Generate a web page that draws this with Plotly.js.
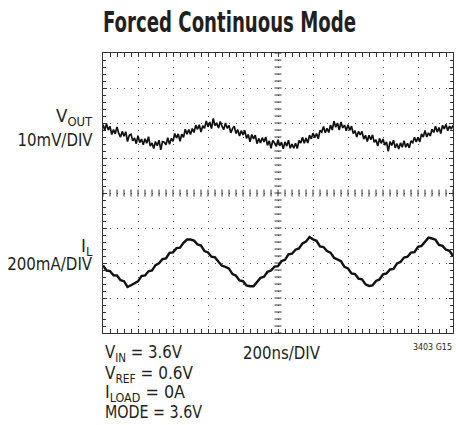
<!DOCTYPE html>
<html><head><meta charset="utf-8">
<script src="https://cdn.plot.ly/plotly-3.0.1.min.js"></script>
<style>html,body{margin:0;padding:0;background:#fff;}#chart{width:456px;height:425px;}</style>
</head><body><div id="chart"></div>
<script>
// ---- data read from the scope capture ----
const chartTitle = 'Forced Continuous Mode';
const timePerDivNs = 200;          // 200ns/DIV, 10 divisions
const voutMvPerDiv = 10;           // 10mV/DIV
const ilMaPerDiv = 200;            // 200mA/DIV

// VOUT ripple (mV, AC-coupled), one sample every 10 ns
const voutStepNs = 10;
const voutMv = [
-0.4,-2.1,-0.2,-2.0,-1.0,-3.3,-1.9,-3.1,-1.1,-3.0,
-4.0,-2.4,-3.8,-2.5,-5.3,-3.5,-3.2,-5.1,-4.3,-5.9,
-3.6,-5.6,-4.6,-6.2,-4.5,-5.8,-3.9,-6.6,-5.7,-7.3,
-5.3,-6.5,-4.9,-7.7,-5.3,-5.5,-6.2,-4.2,-6.1,-4.4,
-5.2,-3.0,-4.3,-3.1,-5.2,-3.2,-4.1,-1.8,-3.2,-1.9,
-3.3,-1.6,-2.7,-0.6,-1.8,-0.5,-2.6,-0.8,-1.5,0.6,
-1.1,0.3,-1.6,1.3,-0.7,-0.1,-1.4,0.4,-0.9,-1.9,
0.0,-1.5,-0.7,-2.8,-1.6,-0.9,-3.0,-1.9,-3.7,-2.2,
-3.4,-2.1,-4.4,-3.3,-5.4,-3.3,-4.5,-3.5,-5.9,-4.4,
-5.7,-4.2,-5.4,-4.0,-6.4,-5.1,-7.2,-5.0,-5.7,-6.7,
-4.8,-6.5,-5.5,-7.4,-5.4,-6.6,-4.9,-7.2,-6.0,-7.2,
-5.8,-7.3,-5.0,-5.7,-4.1,-5.8,-4.3,-5.7,-3.5,-4.5,
-2.9,-4.2,-3.0,-4.5,-2.1,-2.6,-1.0,-2.8,-1.5,-2.7,
-0.6,-2.0,0.5,-1.2,0.0,-2.0,0.3,-1.4,-0.6,-2.2,
-0.5,-2.1,-0.9,-3.0,-2.2,-4.0,-2.4,-3.4,-2.4,-4.6,
-3.5,-5.3,-3.5,-4.8,-3.4,-5.5,-4.8,-6.6,-4.4,-5.8,
-4.6,-6.3,-5.4,-8.1,-5.3,-6.4,-4.9,-7.1,-5.9,-7.4,
-5.7,-6.9,-5.1,-6.9,-5.8,-7.1,-5.1,-5.6,-4.1,-5.4,
-4.1,-5.4,-3.1,-4.0,-2.1,-4.0,-2.8,-3.7,-1.8,-2.7,
-0.9,-2.6,-1.3,-3.0,-0.7,-1.7,-0.4,-2.2,-0.9,-1.7,
-0.7
];

// Inductor current IL (mA, AC-coupled), one sample every 20 ns
const ilStepNs = 20;
const ilMa = [
-14,-43,-46,-70,-71,-98,-104,-137,-127,-118,
-105,-75,-71,-47,-43,-12,-2,22,26,58,
61,85,88,115,135,134,128,106,100,68,
60,36,32,7,-16,-22,-32,-63,-73,-100,
-104,-128,-133,-133,-106,-85,-79,-50,-43,-21,
-18,11,18,50,53,76,83,112,123,148,
135,127,95,91,68,59,30,19,10,-22,
-31,-59,-63,-89,-93,-122,-131,-128,-103,-94,
-65,-60,-37,-34,-3,6,31,36,59,62,
93,98,122,145,140,133,103,98,76,70,
40
];

const voutLabel = 'V<sub>OUT</sub>';
const voutScale = '10mV/DIV';
const ilLabel = 'I<sub>L</sub>';
const ilScale = '200mA/DIV';
const timeScale = '200ns/DIV';
const conditions = ['V<sub>IN</sub> = 3.6V', 'V<sub>REF</sub> = 0.6V', 'I<sub>LOAD</sub> = 0A', 'MODE = 3.6V'];
const figId = '3403 G15';

// ---- layout geometry ----
const W = 456, H = 425;
const L = 103, R = 453, T = 53, B = 333;
const px2x = p => (p - L) / (R - L);
const py2y = p => (B - p) / (B - T);

const totalNs = timePerDivNs * 10;
const voutTime = voutMv.map((_, i) => i * voutStepNs);
const ilTime = ilMa.map((_, i) => i * ilStepNs);

// VOUT reference sits 2 div above centre, IL reference 2 div below centre
const voutRange = [(-4 - 2) * voutMvPerDiv, (4 - 2) * voutMvPerDiv];
const ilRange = [(-4 + 2) * ilMaPerDiv, (4 + 2) * ilMaPerDiv];
const voutCentre = (voutRange[0] + voutRange[1]) / 2;

// graticule centre-line ticks (every 1/5 division)
const cx = [], cy = [], vx = [], vy = [];
for (let k = 0; k <= 50; k++) { cx.push(k * timePerDivNs / 5); cy.push(voutCentre); }
for (let k = 0; k <= 40; k++) { vx.push(totalNs / 2); vy.push(voutRange[0] + k * voutMvPerDiv / 5); }

const ink = '#231f20';
const traces = [
  {x: cx, y: cy, xaxis: 'x', yaxis: 'y', mode: 'markers', hoverinfo: 'skip', showlegend: false,
   marker: {symbol: 'line-ns', size: 5, color: ink, line: {width: 1, color: '#333'}}},
  {x: vx, y: vy, xaxis: 'x', yaxis: 'y', mode: 'markers', hoverinfo: 'skip', showlegend: false,
   marker: {symbol: 'line-ew', size: 5, color: ink, line: {width: 1, color: '#333'}}},
  {x: voutTime, y: voutMv, xaxis: 'x', yaxis: 'y', mode: 'lines', showlegend: false,
   line: {color: '#111', width: 1.7}},
  {x: ilTime, y: ilMa, xaxis: 'x', yaxis: 'y2', mode: 'lines', showlegend: false,
   line: {color: '#111', width: 2.4}}
];

const axisCommon = {
  showgrid: true, gridcolor: '#555', griddash: '1px,6px', gridwidth: 1,
  showline: true, linecolor: '#333', linewidth: 1, mirror: 'allticks',
  ticks: 'inside', ticklen: 4, tickcolor: '#333', tickwidth: 1,
  showticklabels: false, zeroline: false, fixedrange: true
};

const font = 'Liberation Sans Narrow, DejaVu Sans Condensed, Liberation Sans, Arial, sans-serif';
// text placement: [text, x px, y px (centre), anchor, font size, width px in the reference]
const textItems = [
  [voutLabel, 95, 117, 'right', 18.5, 38],
  [voutScale, 95, 139, 'right', 18.5, 75],
  [ilLabel, 95, 247, 'right', 18.5, 12],
  [ilScale, 95, 263, 'right', 18.5, 85],
  [timeScale, 241, 352, 'left', 18.5, 77],
  [figId, 454, 346, 'right', 9.5, 39],
  [conditions[0], 103, 353, 'left', 18.5, 77],
  [conditions[1], 103, 374, 'left', 18.5, 88],
  [conditions[2], 103, 393, 'left', 18.5, 80],
  [conditions[3], 103, 412, 'left', 18.5, 97]
];
const ann = textItems.map(d => ({
  text: d[0], xref: 'paper', yref: 'paper', x: px2x(d[1]), y: py2y(d[2]),
  xanchor: d[3], yanchor: 'middle', showarrow: false,
  font: {family: font, size: d[4], color: ink}
}));
const titleWidth = 253;

const layout = {
  width: W, height: H,
  margin: {l: L, r: W - R, t: T, b: H - B, pad: 0},
  paper_bgcolor: '#fff', plot_bgcolor: '#fff',
  title: {text: '<b>' + chartTitle + '</b>', xref: 'container', yref: 'container',
    x: L / W, xanchor: 'left', y: 1 - 22 / H, yanchor: 'middle',
    font: {family: font, size: 29, color: ink}},
  xaxis: Object.assign({}, axisCommon, {range: [0, totalNs], tick0: 0, dtick: timePerDivNs,
    minor: {dtick: timePerDivNs / 5, ticklen: 3, tickcolor: '#333', ticks: 'inside', showgrid: false}}),
  yaxis: Object.assign({}, axisCommon, {range: voutRange, tick0: 0, dtick: voutMvPerDiv,
    minor: {dtick: voutMvPerDiv / 5, ticklen: 3, tickcolor: '#333', ticks: 'inside', showgrid: false}}),
  yaxis2: {range: ilRange, overlaying: 'y', visible: false, fixedrange: true},
  annotations: ann,
  showlegend: false
};

// condense text horizontally (the original uses a condensed face)
function condense(el, targetW, anchor) {
  if (!el) return;
  const b0 = el.getBBox();
  const len = el.getComputedTextLength();
  if (!(len > 0) || len <= targetW) return;
  el.setAttribute('textLength', targetW);
  el.setAttribute('lengthAdjust', 'spacingAndGlyphs');
  const b1 = el.getBBox();
  let dx = 0;
  if (anchor === 'right') dx = (b0.x + b0.width) - (b1.x + b1.width);
  else if (anchor === 'left') dx = b0.x - b1.x;
  if (dx) {
    const tr = el.getAttribute('transform') || '';
    el.setAttribute('transform', 'translate(' + dx + ',0) ' + tr);
  }
}

Plotly.newPlot('chart', traces, layout, {displayModeBar: false, staticPlot: true}).then(gd => {
  textItems.forEach((d, i) => {
    const el = gd.querySelector('g.annotation[data-index="' + i + '"] text.annotation-text');
    condense(el, d[5], d[3]);
  });
  condense(gd.querySelector('text.gtitle'), titleWidth, 'left');
});
</script>
</body></html>
